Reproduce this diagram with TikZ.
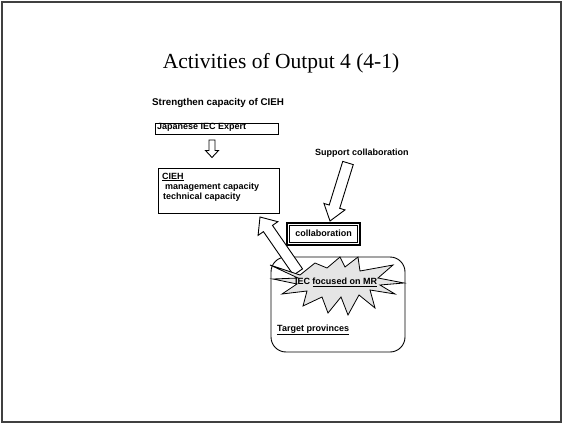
\documentclass[tikz,border=0pt]{standalone}
\usepackage{fontspec}
\setmainfont{Liberation Serif}
\setsansfont{Liberation Sans}
\usetikzlibrary{calc}
\newcommand\hollowarrow[5]{%
  \path ($(#1)!#5!(#2)$) coordinate (ha-h);
  \draw[hollow] ($(#2)!#3!90:(#1)$) -- ($(ha-h)!#3!90:(#1)$) -- ($(ha-h)!#4!90:(#1)$)
    -- (#1) -- ($(ha-h)!#4!-90:(#1)$) -- ($(ha-h)!#3!-90:(#1)$) -- ($(#2)!#3!-90:(#1)$) -- cycle;}
\begin{document}
\begin{tikzpicture}[x=1pt,y=-1pt,
  lbl/.style={font=\sffamily\bfseries\fontsize{9}{10}\selectfont, inner sep=0pt},
  box/.style={draw, line width=0.9pt, inner sep=0pt},
  hollow/.style={draw, line width=0.9pt, fill=white, line join=miter},
]
\useasboundingbox (0,0) rectangle (565,428);
\draw[line width=1.5pt, black!75] (2,2) rectangle (561,422);

\node[font=\rmfamily\fontsize{21.5}{24}\selectfont, inner sep=0pt] (title) at (281,63) {Activities of Output 4 (4-1)};

\node[lbl, font=\sffamily\bfseries\fontsize{9.8}{11}\selectfont, anchor=west] (head) at (152,103) {Strengthen capacity of CIEH};

\node[box, minimum width=123pt, minimum height=11pt, anchor=north west] (jp) at (155,123) {};
\node[lbl, anchor=west] (jptext) at (157,127.5) {Japanese IEC Expert};

\node[box, minimum width=121pt, minimum height=45pt, anchor=north west] (cieh) at (158,168) {};
\node[lbl, anchor=west] (c1) at (162,177) {\underline{CIEH}};
\node[lbl, anchor=west] (c2) at (165,187) {management capacity};
\node[lbl, anchor=west] (c3) at (163,197) {technical capacity};

\node[lbl, anchor=west] (support) at (315,153) {Support collaboration};

\node[box, line width=1.1pt, minimum width=73pt, minimum height=22pt] (collab) at (323.5,234) {};
\draw[line width=0.7pt] ($(collab.north west)+(3,3)$) rectangle ($(collab.south east)+(-3,-3)$);
\node[lbl] (collabtext) at (323.5,233.5) {collaboration};

% target provinces rounded box
\draw[line width=0.9pt, rounded corners=15pt] (271,257) rectangle (405,352);

% arrows
\coordinate (a1t) at (212,140); \coordinate (a1h) at (212,157.5);
\hollowarrow{a1h}{a1t}{3pt}{6.5pt}{7pt}
\coordinate (a2t) at (348,163); \coordinate (a2h) at (330,221);
\hollowarrow{a2h}{a2t}{5.5pt}{11pt}{15pt}
\coordinate (a3t) at (298,272); \coordinate (a3h) at (260,217);
\hollowarrow{a3h}{a3t}{5.5pt}{12pt}{14pt}

% burst
\draw[line width=0.8pt, fill=black!10, line join=miter]
  (270,265) -- (300,275) -- (315,263) -- (327,268) -- (340,257) -- (345,267)
  -- (358,257) -- (360,271) -- (393,265) -- (378,278) -- (404,283) -- (380,285)
  -- (395,294) -- (370,290) -- (375,308) -- (359,295) -- (348,315) -- (341,297)
  -- (328,313) -- (322,297) -- (303,306) -- (307,291) -- (282,294) -- (297,284)
  -- (273,279) -- (298,278) -- cycle;
\node[lbl] (iec) at (336,282.5) {IEC \underline{focused on MR}};

\node[lbl, anchor=west] (target) at (277,330) {\underline{Target provinces}};
\end{tikzpicture}
\end{document}
